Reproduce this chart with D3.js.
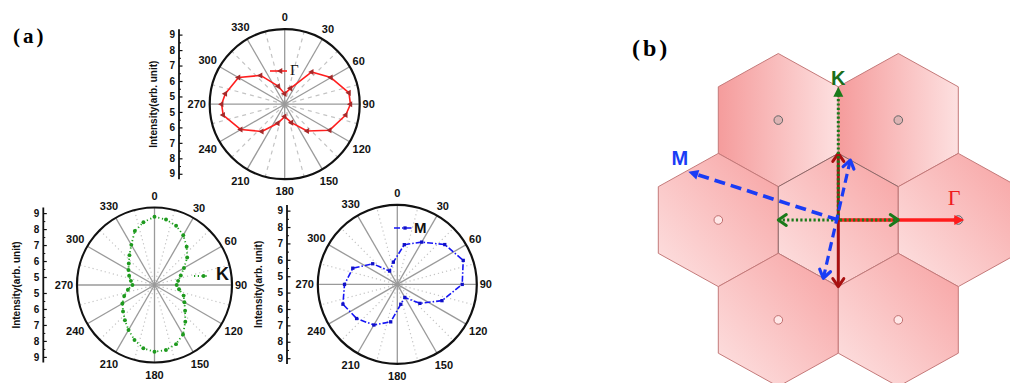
<!DOCTYPE html>
<html>
<head>
<meta charset="utf-8">
<script src="https://cdn.jsdelivr.net/npm/d3@7"></script>
<style>
  html, body { margin: 0; padding: 0; background: #fff; }
  svg { display: block; }
</style>
</head>
<body>
<svg id="fig" width="1010" height="383"></svg>
<script>
// ---- polar axis ticks ----
const angleTicks = [0, 30, 60, 90, 120, 150, 180, 210, 240, 270, 300, 330];
const minorAngles = [15, 45, 75, 105, 135, 165, 195, 225, 255, 285, 315, 345];
const radialTicks = [5, 6, 7, 8, 9];
const radialMinor = [5.5, 6.5, 7.5, 8.5];
const radialDomain = [4.5, 9.35];

// ---- intensity vs. polarization angle (arb. unit) ----
const gammaAngles = [0, 20, 40, 60, 80, 90, 100, 120, 140, 160, 180, 200, 220, 240, 260, 270, 280, 300, 320, 340];
const gammaValues = [5.17, 5.59, 7.22, 7.95, 8.72, 8.75, 8.51, 7.86, 6.76, 5.77, 5.30, 5.81, 6.80, 7.78, 8.54, 8.58, 8.40, 7.95, 6.93, 5.74];

const kAngles = [0, 10, 20, 30, 40, 50, 60, 70, 80, 90, 100, 110, 120, 130, 140, 150, 160, 170,
                 180, 190, 200, 210, 220, 230, 240, 250, 260, 270, 280, 290, 300, 310, 320, 330, 340, 350];
const kValues = [8.77, 8.66, 8.45, 8.10, 7.63, 7.17, 6.63, 6.25, 6.00, 5.89, 6.06, 6.44, 6.66, 7.00, 7.50, 8.07, 8.44, 8.63,
                 8.68, 8.52, 8.16, 7.75, 7.38, 7.07, 6.82, 6.52, 6.19, 5.88, 6.00, 6.19, 6.38, 6.60, 6.94, 7.40, 8.10, 8.49];

const mAngles = [10, 30, 50, 70, 90, 110, 130, 150, 170, 190, 210, 230, 250, 270, 290, 310, 330, 350];
const mValues = [6.96, 7.48, 8.28, 8.78, 8.46, 7.40, 6.30, 5.42, 5.73, 6.82, 7.36, 7.74, 8.03, 7.72, 7.39, 6.46, 5.44, 5.88];

const sans = "'Liberation Sans', Arial, sans-serif";
const serif = "'Liberation Serif', 'Times New Roman', serif";

const svg = d3.select('#fig');

// panel letters
svg.append('text').attr('x', 13).attr('y', 43).text('(a)')
  .attr('font-family', serif).attr('font-weight', 'bold').attr('font-size', 21).attr('letter-spacing', 3);
svg.append('text').attr('x', 632).attr('y', 56).text('(b)')
  .attr('font-family', serif).attr('font-weight', 'bold').attr('font-size', 24).attr('letter-spacing', 3);

// ---------- polar plots ----------
function polarPlot(cfg) {
  const g = svg.append('g');
  const { cx, cy, R } = cfg;
  const r = d3.scaleLinear().domain(radialDomain).range([0, R]);
  const ang = d3.scaleLinear().domain([0, 360]).range([0, 2 * Math.PI]);
  const px = (a, rr) => cx + rr * Math.sin(ang(a));
  const py = (a, rr) => cy - rr * Math.cos(ang(a));

  // minor spokes
  g.selectAll('line.minor').data(minorAngles).join('line')
    .attr('x1', cx).attr('y1', cy)
    .attr('x2', d => px(d, R)).attr('y2', d => py(d, R))
    .attr('stroke', '#c4c4c4').attr('stroke-width', cfg.minorWidth)
    .attr('stroke-dasharray', cfg.minorDash);

  // major spokes
  g.selectAll('line.major').data(angleTicks).join('line')
    .attr('x1', cx).attr('y1', cy)
    .attr('x2', d => px(d, R)).attr('y2', d => py(d, R))
    .attr('stroke', '#9a9a9a').attr('stroke-width', 1.3);

  // outer ring
  g.append('circle').attr('cx', cx).attr('cy', cy).attr('r', R)
    .attr('fill', 'none').attr('stroke', '#111').attr('stroke-width', 2.2);

  // angle labels
  const labelDist = d => {
    const s = Math.abs(Math.sin(ang(d))), c = Math.abs(Math.cos(ang(d)));
    return R + 9 + 3 * c + (String(d).length - 2) * 4 * s;
  };
  g.selectAll('text.ang').data(angleTicks).join('text')
    .text(d => d)
    .attr('x', d => px(d, labelDist(d)))
    .attr('y', d => py(d, labelDist(d)))
    .attr('text-anchor', 'middle').attr('dominant-baseline', 'central')
    .attr('font-family', sans).attr('font-weight', 'bold').attr('font-size', 11)
    .attr('fill', '#111');

  // data curve
  const pts = cfg.angles.map((a, i) => ({ angle: a, value: cfg.values[i] }));
  const line = d3.lineRadial()
    .angle(d => ang(d.angle))
    .radius(d => r(d.value))
    .curve(d3.curveLinearClosed);
  g.append('path').datum(pts)
    .attr('transform', `translate(${cx},${cy})`)
    .attr('d', line)
    .attr('fill', 'none').attr('stroke', cfg.color).attr('stroke-width', cfg.lineWidth)
    .attr('stroke-dasharray', cfg.dash || null)
    .attr('stroke-linejoin', 'round');

  // markers
  const sym = d3.symbol().type(cfg.symbol).size(cfg.symbolSize);
  g.selectAll('path.mk').data(pts).join('path')
    .attr('transform', d => `translate(${px(d.angle, r(d.value))},${py(d.angle, r(d.value))}) rotate(${cfg.symbolRotate || 0})`)
    .attr('d', sym)
    .attr('fill', cfg.markerColor);

  // legend
  const L = cfg.legend;
  g.append('line').attr('x1', L.x1).attr('x2', L.x2).attr('y1', L.y).attr('y2', L.y)
    .attr('stroke', cfg.color).attr('stroke-width', cfg.lineWidth)
    .attr('stroke-dasharray', cfg.dash || null);
  g.append('path')
    .attr('transform', `translate(${(L.x1 + L.x2) / 2 + 2},${L.y}) rotate(${cfg.symbolRotate || 0})`)
    .attr('d', sym).attr('fill', cfg.markerColor);
  g.append('text').attr('x', L.tx).attr('y', L.ty).text(cfg.name)
    .attr('font-family', L.font).attr('font-weight', L.weight).attr('font-size', L.size)
    .attr('fill', '#111');

  // radial intensity axis (mirrored around the centre)
  const ax = cfg.axisX;
  g.append('line').attr('x1', ax).attr('x2', ax).attr('y1', cy - R).attr('y2', cy + R)
    .attr('stroke', '#111').attr('stroke-width', 1.8);
  const yUp = d3.scaleLinear().domain(radialDomain).range([cy, cy - R]);
  const yDown = d3.scaleLinear().domain(radialDomain).range([cy, cy + R]);
  [yUp, yDown].forEach(sc => {
    const a = g.append('g').attr('transform', `translate(${ax},0)`)
      .call(d3.axisLeft(sc).tickValues(radialTicks).tickFormat(d3.format('d'))
        .tickSizeInner(-3.5).tickSizeOuter(0).tickPadding(4));
    a.select('.domain').remove();
    a.selectAll('line').attr('stroke', '#111').attr('stroke-width', 1.2);
    a.selectAll('text').attr('font-family', sans).attr('font-weight', 'bold').attr('font-size', 10).attr('fill', '#111');
    const m = g.append('g').attr('transform', `translate(${ax},0)`)
      .call(d3.axisLeft(sc).tickValues(radialMinor).tickSizeInner(-2).tickSizeOuter(0).tickFormat(''));
    m.select('.domain').remove();
    m.selectAll('line').attr('stroke', '#111').attr('stroke-width', 1);
  });
  g.append('text')
    .attr('transform', `translate(${cfg.labelX},${cy}) rotate(-90)`)
    .attr('text-anchor', 'middle').attr('dominant-baseline', 'central')
    .attr('font-family', sans).attr('font-weight', 'bold').attr('font-size', 10)
    .attr('fill', '#111')
    .text('Intensity(arb. unit)');
}

polarPlot({
  cx: 284.7, cy: 104.2, R: 75, axisX: 179, labelX: 153,
  angles: gammaAngles, values: gammaValues, name: 'Γ',
  color: '#ff1e1e', lineWidth: 1.6, markerColor: '#a52a2a',
  symbol: d3.symbolTriangle, symbolSize: 16, symbolRotate: -90,
  minorDash: '4,4', minorWidth: 1.2,
  legend: { x1: 270, x2: 287, y: 71, tx: 290, ty: 75, font: serif, weight: 'normal', size: 15 }
});

polarPlot({
  cx: 154.5, cy: 285, R: 77.5, axisX: 43.3, labelX: 16,
  angles: kAngles, values: kValues, name: 'K',
  color: '#22a022', lineWidth: 1.8, dash: '1.2,2.6', markerColor: '#1e9a1e',
  symbol: d3.symbolCircle, symbolSize: 12,
  minorDash: '1.2,3', minorWidth: 1.2,
  legend: { x1: 194, x2: 209, y: 276, tx: 216, ty: 280, font: sans, weight: 'bold', size: 18 }
});

polarPlot({
  cx: 397.3, cy: 284.4, R: 79.5, axisX: 287, labelX: 258,
  angles: mAngles, values: mValues, name: 'M',
  color: '#1515f5', lineWidth: 1.6, dash: '6,2,1.5,2', markerColor: '#1010c8',
  symbol: d3.symbolSquare, symbolSize: 11,
  minorDash: '1.2,3', minorWidth: 1.2,
  legend: { x1: 394, x2: 412, y: 228, tx: 414, ty: 233, font: sans, weight: 'bold', size: 15 }
});

// ---------- panel (b): hexagonal Brillouin zones ----------
// lattice cells: col in half-widths, row in hexagon rows
const hexCells = [
  { col: -1, row: -1, grad: 'horiz' }, { col: 1, row: -1, grad: 'horiz' },
  { col: -2, row: 0, grad: 'diag' }, { col: 0, row: 0, grad: 'diag' }, { col: 2, row: 0, grad: 'diag' },
  { col: -1, row: 1, grad: 'diag' }, { col: 1, row: 1, grad: 'diag' }
];
// hexagon outline in lattice units (pointy-top)
const hexShape = [[0, -2], [1, -1], [1, 1], [0, 2], [-1, 1], [-1, -1]];

const hx = d3.scaleLinear().domain([0, 1]).range([838.3, 898.3]);
const hy = d3.scaleLinear().domain([0, 1]).range([220, 253.3]);

const defs = svg.append('defs');
const gH = defs.append('linearGradient').attr('id', 'gHoriz').attr('x1', 0).attr('y1', 0).attr('x2', 1).attr('y2', 0);
gH.append('stop').attr('offset', 0).attr('stop-color', '#f59c9c');
gH.append('stop').attr('offset', 1).attr('stop-color', '#fde0e0');
const gD = defs.append('linearGradient').attr('id', 'gDiag').attr('x1', 0).attr('y1', 1).attr('x2', 1).attr('y2', 0);
gD.append('stop').attr('offset', 0).attr('stop-color', '#fde3e3');
gD.append('stop').attr('offset', 1).attr('stop-color', '#f7a2a2');

const pb = svg.append('g');
const hexLine = d3.line();
pb.selectAll('path.hex').data(hexCells).join('path')
  .attr('d', d => hexLine(hexShape.map(([u, v]) => [hx(d.col + u), hy(3 * d.row + v)])) + 'Z')
  .attr('fill', d => d.grad === 'horiz' ? 'url(#gHoriz)' : 'url(#gDiag)')
  .attr('stroke', d => (d.col === 0 && d.row === 0) ? '#8c6a6a' : '#c47a7a')
  .attr('stroke-width', 1);

// zone-centre markers of the neighbouring cells
pb.selectAll('circle.ctr').data(hexCells.filter(d => !(d.col === 0 && d.row === 0))).join('circle')
  .attr('cx', d => hx(d.col)).attr('cy', d => hy(3 * d.row)).attr('r', 4.3)
  .attr('fill', d => d.row < 0 ? '#dcb4b4' : (d.col === 2 ? '#c8cde0' : '#ffe8e8'))
  .attr('stroke', d => d.row < 0 || d.col === 2 ? '#666' : '#c07070')
  .attr('stroke-width', 1);

// polarization directions, in lattice units
const arrows = [
  { from: [0, 0], to: [2.1, 0], color: '#ff1c1c', width: 3.4, dash: null, head: 'fill', tail: null },
  { from: [0, -2], to: [0, 2], color: '#a81010', width: 3, dash: null, head: 'open', tail: 'open' },
  { from: [-1, 0], to: [1, 0], color: '#1a7a1a', width: 3, dash: '2.2,2.2', head: 'open', tail: 'open' },
  { from: [0, 0], to: [0, -4], color: '#1a7a1a', width: 3, dash: '2.2,2.2', head: 'fill', tail: null },
  { from: [-0.25, 1.75], to: [0.2, -1.8], color: '#1a3cf5', width: 3.2, dash: '9,5', head: 'open', tail: 'open' },
  { from: [0, 0], to: [-2.5, -1.45], color: '#1a3cf5', width: 3.6, dash: '11,6', head: 'fill', tail: null }
];

function drawHead(tip, back, type, color, width) {
  const dx = tip[0] - back[0], dy = tip[1] - back[1];
  const len = Math.hypot(dx, dy), ux = dx / len, uy = dy / len;
  const L = type === 'fill' ? 10 : 8, W = type === 'fill' ? 5 : 5.5;
  const bx = tip[0] - ux * L, by = tip[1] - uy * L;
  const p1 = [bx - uy * W, by + ux * W], p2 = [bx + uy * W, by - ux * W];
  if (type === 'fill') {
    pb.append('path').attr('d', `M${tip[0]},${tip[1]}L${p1[0]},${p1[1]}L${p2[0]},${p2[1]}Z`).attr('fill', color);
  } else {
    pb.append('path').attr('d', `M${p1[0]},${p1[1]}L${tip[0]},${tip[1]}L${p2[0]},${p2[1]}`)
      .attr('fill', 'none').attr('stroke', color).attr('stroke-width', width).attr('stroke-linecap', 'round')
      .attr('stroke-linejoin', 'round');
  }
}

arrows.forEach(a => {
  const p0 = [hx(a.from[0]), hy(a.from[1])], p1 = [hx(a.to[0]), hy(a.to[1])];
  const dx = p1[0] - p0[0], dy = p1[1] - p0[1], len = Math.hypot(dx, dy);
  const ux = dx / len, uy = dy / len;
  const s0 = a.tail === 'fill' ? 8 : 0, s1 = a.head === 'fill' ? 8 : 0;
  pb.append('line')
    .attr('x1', p0[0] + ux * s0).attr('y1', p0[1] + uy * s0)
    .attr('x2', p1[0] - ux * s1).attr('y2', p1[1] - uy * s1)
    .attr('stroke', a.color).attr('stroke-width', a.width)
    .attr('stroke-dasharray', a.dash);
  if (a.head) drawHead(p1, p0, a.head, a.color, a.width);
  if (a.tail) drawHead(p0, p1, a.tail, a.color, a.width);
});

// direction labels
pb.append('text').attr('x', hx(0)).attr('y', 85).attr('text-anchor', 'middle').text('K')
  .attr('font-family', sans).attr('font-weight', 'bold').attr('font-size', 20).attr('fill', '#1a6e1a');
pb.append('text').attr('x', hx(1.93)).attr('y', 205).attr('text-anchor', 'middle').text('Γ')
  .attr('font-family', serif).attr('font-size', 22).attr('fill', '#ee1c1c');
pb.append('text').attr('x', hx(-2.64)).attr('y', 165).attr('text-anchor', 'middle').text('M')
  .attr('font-family', sans).attr('font-weight', 'bold').attr('font-size', 20).attr('fill', '#1a3cf5');
</script>
</body>
</html>
